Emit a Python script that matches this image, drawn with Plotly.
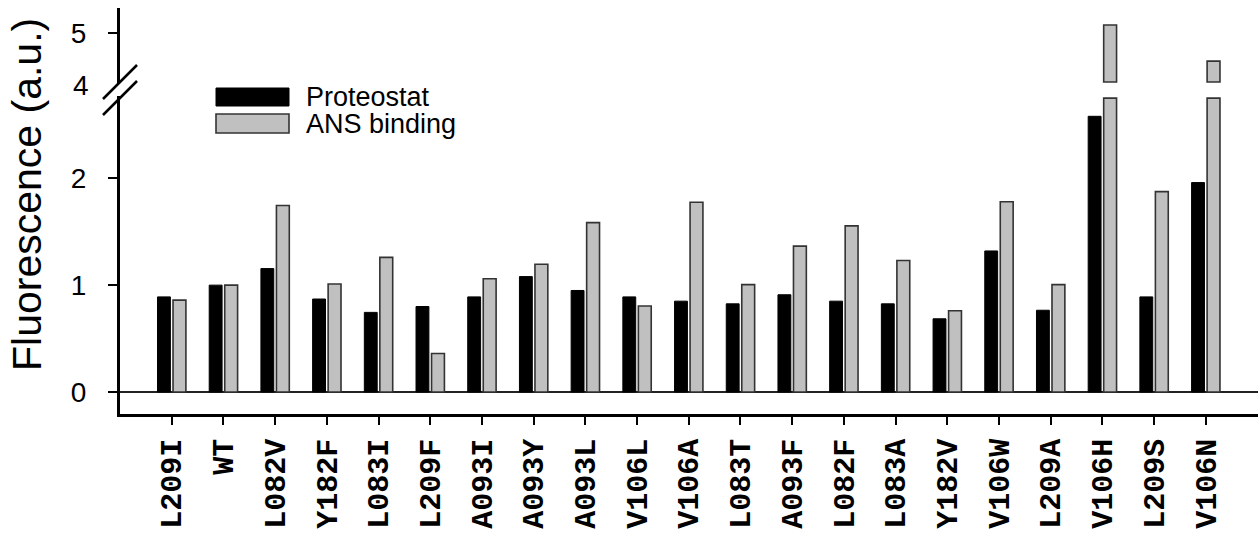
import plotly.graph_objects as go

W, H = 1259, 536

categories = ["L209I", "WT", "L082V", "Y182F", "L083I", "L209F", "A093I", "A093Y",
              "A093L", "V106L", "V106A", "L083T", "A093F", "L082F", "L083A", "Y182V",
              "V106W", "L209A", "V106H", "L209S", "V106N"]
proteostat = [0.89, 1.00, 1.155, 0.87, 0.745, 0.80, 0.89, 1.08, 0.95, 0.89, 0.85,
              0.825, 0.91, 0.85, 0.825, 0.685, 1.32, 0.765, 2.58, 0.89, 1.96]
ans_binding = [0.86, 1.00, 1.745, 1.01, 1.26, 0.36, 1.06, 1.195, 1.585, 0.805, 1.775,
               1.005, 1.365, 1.555, 1.23, 0.76, 1.78, 1.005, 5.17, 1.875, 4.43]

lower_ticks = [0, 1, 2]
upper_ticks = [5]
upper_label = "4"

LOW_RANGE = [-0.206, 2.77]
LOW_CLIP = 2.75
UP_RANGE = [3.97, 5.53]
UP_BASE = 4.0


def px(x):
    return x / W


def py(y):
    return 1 - y / H


BLACK = "#000000"
GRAY = "#c0c0c0"
EDGE = "#333333"

fig = go.Figure()

# lower segment
fig.add_trace(go.Bar(x=categories, y=proteostat, name="Proteostat",
                     marker=dict(color=BLACK, line=dict(color=BLACK, width=1)),
                     xaxis="x", yaxis="y"))
fig.add_trace(go.Bar(x=categories, y=[min(v, LOW_CLIP) for v in ans_binding],
                     name="ANS binding",
                     marker=dict(color=GRAY, line=dict(color=EDGE, width=1.6)),
                     xaxis="x", yaxis="y"))
# upper segment (above the break)
fig.add_trace(go.Bar(x=categories, y=[None for v in proteostat], name="Proteostat",
                     marker=dict(color=BLACK), xaxis="x", yaxis="y2"))
fig.add_trace(go.Bar(x=categories,
                     y=[(v - UP_BASE) if v > UP_BASE else None for v in ans_binding],
                     base=UP_BASE, name="ANS binding",
                     marker=dict(color=GRAY, line=dict(color=EDGE, width=1.6)),
                     xaxis="x", yaxis="y2"))

sans = "Liberation Sans"

fig.update_layout(
    width=W, height=H,
    margin=dict(l=0, r=0, t=0, b=0, autoexpand=False),
    paper_bgcolor="white", plot_bgcolor="white",
    showlegend=False,
    barmode="group", bargap=0.40, bargroupgap=0.17,
    xaxis=dict(domain=[px(120), px(1258)], range=[-1, 21.01], type="category",
               anchor="y", showline=True, linecolor=BLACK, linewidth=2.5,
               ticks="outside", ticklen=8, tickwidth=2, tickcolor=BLACK,
               tickangle=-90, ticklabelstandoff=2, automargin=False,
               tickfont=dict(family="Liberation Mono", size=30, color=BLACK, weight="bold"),
               showgrid=False, zeroline=False),
    yaxis=dict(domain=[py(414), py(96)], range=LOW_RANGE, anchor="x",
               tickvals=lower_ticks, ticks="outside", ticklen=9, tickwidth=2,
               tickcolor=BLACK, showline=True, linecolor=BLACK, linewidth=3,
               zeroline=True, zerolinecolor="#222222", zerolinewidth=1.5,
               showgrid=False, ticklabelstandoff=16, automargin=False,
               tickfont=dict(family=sans, size=28, color=BLACK)),
    yaxis2=dict(domain=[py(83.5), py(7.5)], range=UP_RANGE, anchor="x",
                tickvals=upper_ticks, ticks="outside", ticklen=9, tickwidth=2,
                tickcolor=BLACK, showline=True, linecolor=BLACK, linewidth=3,
                zeroline=False, showgrid=False, ticklabelstandoff=16, automargin=False,
                tickfont=dict(family=sans, size=28, color=BLACK)),
)

# upper-segment "4" label (no tick mark at the break)
fig.add_annotation(x=px(91), xref="paper", xanchor="right",
                   y=UP_BASE, yref="y2", yanchor="middle", yshift=-3,
                   text=upper_label, showarrow=False,
                   font=dict(family=sans, size=28, color=BLACK))

# y-axis title
fig.add_annotation(x=px(27), y=py(195), xref="paper", yref="paper",
                   text="Fluorescence (a.u.)", textangle=-90, showarrow=False,
                   xanchor="center", yanchor="middle",
                   font=dict(family=sans, size=41, color=BLACK))

# axis break marks
for (x0, y0, x1, y1) in [(103, 99, 137, 65), (103, 115, 137, 81)]:
    fig.add_shape(type="line", xref="paper", yref="paper",
                  x0=px(x0), y0=py(y0), x1=px(x1), y1=py(y1),
                  line=dict(color=BLACK, width=2.5))

# legend
fig.add_shape(type="rect", xref="paper", yref="paper",
              x0=px(216), x1=px(289), y0=py(106), y1=py(88),
              fillcolor=BLACK, line=dict(color=BLACK, width=1))
fig.add_shape(type="rect", xref="paper", yref="paper",
              x0=px(216), x1=px(289), y0=py(133), y1=py(114),
              fillcolor=GRAY, line=dict(color=EDGE, width=1.6))
fig.add_annotation(x=px(304), y=py(97), xref="paper", yref="paper",
                   xanchor="left", yanchor="middle", text="Proteostat",
                   showarrow=False, font=dict(family=sans, size=27, color=BLACK))
fig.add_annotation(x=px(304), y=py(124), xref="paper", yref="paper",
                   xanchor="left", yanchor="middle", text="ANS binding",
                   showarrow=False, font=dict(family=sans, size=27, color=BLACK))

fig.write_html("out.html", config={"displayModeBar": False},
               post_script="document.body.style.margin='0';document.body.style.overflow='hidden';")
